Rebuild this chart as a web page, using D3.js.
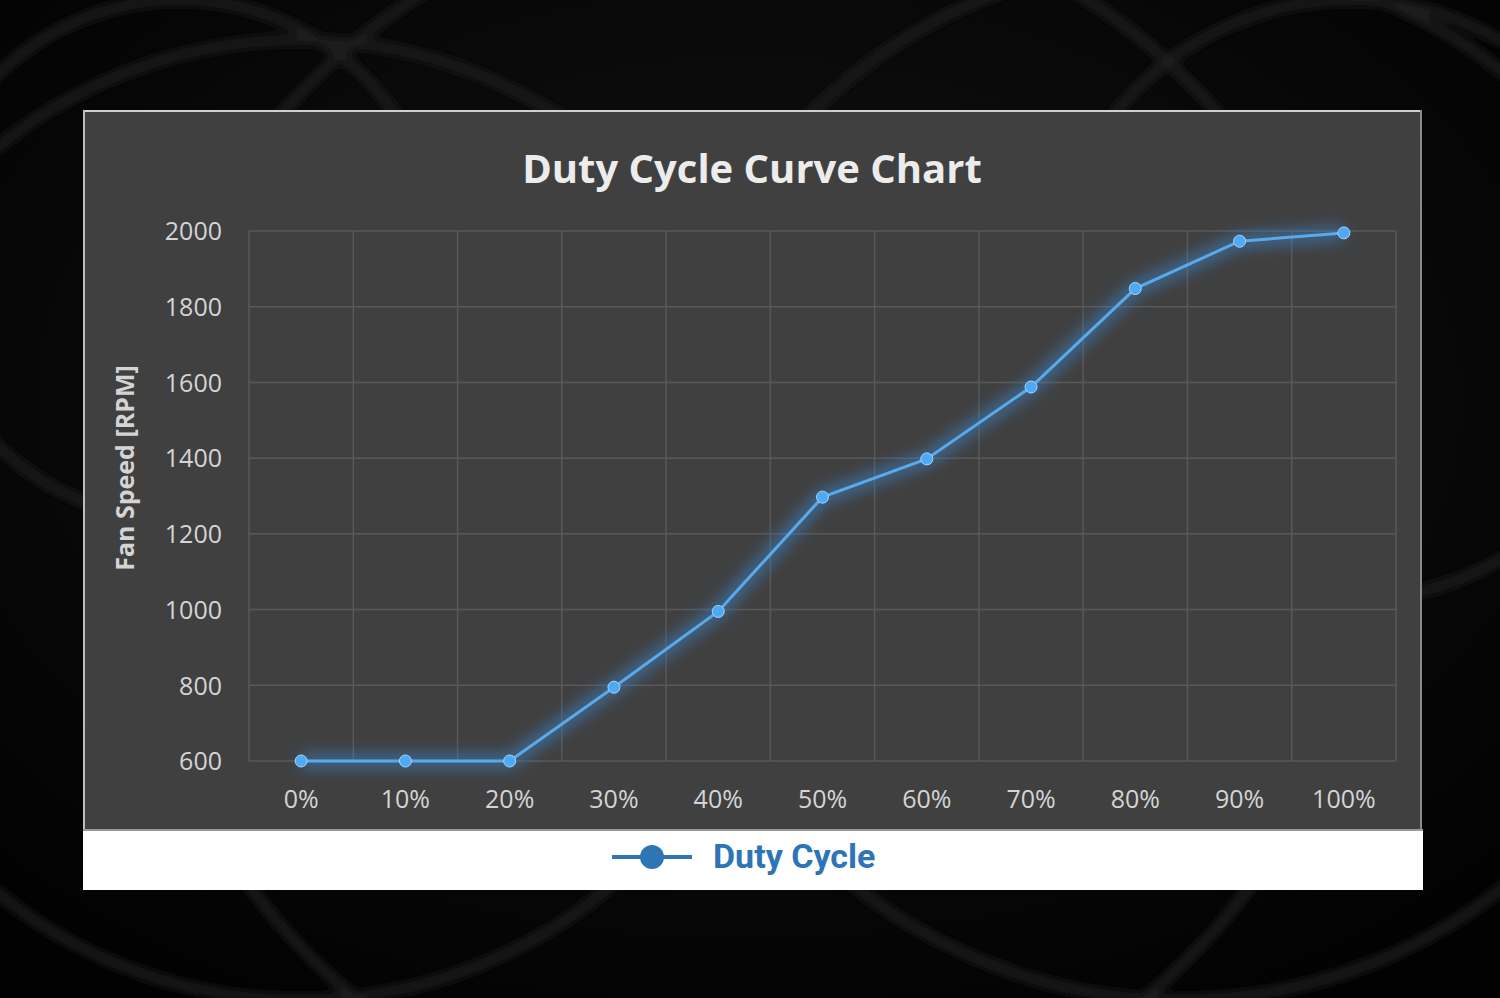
<!DOCTYPE html>
<html><head><meta charset="utf-8">
<script src="https://cdn.jsdelivr.net/npm/d3@7"></script>
<style>html,body{margin:0;padding:0;background:#000;overflow:hidden}</style>
</head><body>
<svg id="chart" width="1500" height="998"></svg>
<script>
const categories = ["0%","10%","20%","30%","40%","50%","60%","70%","80%","90%","100%"];
const rpmValues = [600,600,600,795,995,1297,1398,1588,1848,1973,1995];
const yTicks = [600,800,1000,1200,1400,1600,1800,2000];
const seriesName = "Duty Cycle";
const titleText = "Duty Cycle Curve Chart";
const yLabel = "Fan Speed [RPM]";

(function(){
const svg = d3.select("#chart");
const defs = svg.append("defs");

const bg = defs.append("radialGradient").attr("id","bg").attr("cx","50%").attr("cy","40%").attr("r","70%");
bg.append("stop").attr("offset","0%").attr("stop-color","#121212");
bg.append("stop").attr("offset","100%").attr("stop-color","#020202");
svg.append("rect").attr("width",1500).attr("height",998).attr("fill","url(#bg)");
const sb = defs.append("filter").attr("id","sb");
sb.append("feGaussianBlur").attr("stdDeviation",4);
const swirl = svg.append("g").attr("fill","none").attr("stroke","#1a1a1a").attr("stroke-width",10).attr("filter","url(#sb)");
[[300,520,480],[1180,480,520],[750,520,620],[180,260,260],[1350,300,300]].forEach(d=>{
  swirl.append("circle").attr("cx",d[0]).attr("cy",d[1]).attr("r",d[2]);
});

svg.append("rect").attr("x",83).attr("y",110).attr("width",1339).attr("height",720).attr("fill","#404040");
svg.append("line").attr("x1",83).attr("x2",1422).attr("y1",111).attr("y2",111).attr("stroke","#cfcfcf").attr("stroke-width",2);
svg.append("line").attr("x1",84).attr("x2",84).attr("y1",110).attr("y2",830).attr("stroke","#bdbdbd").attr("stroke-width",2);
svg.append("line").attr("x1",1421).attr("x2",1421).attr("y1",110).attr("y2",830).attr("stroke","#8a8a8a").attr("stroke-width",2);
svg.append("rect").attr("x",83).attr("y",830).attr("width",1340).attr("height",60).attr("fill","#ffffff");
svg.append("line").attr("x1",83).attr("x2",1423).attr("y1",830).attr("y2",830).attr("stroke","#9a9a9a").attr("stroke-width",2);

const pL=249,pR=1396,pT=231,pB=761;
const x = d3.scaleBand().domain(categories).range([pL,pR]).padding(0);
const y = d3.scaleLinear().domain([600,2000]).range([pB,pT]);

const g = svg.append("g");
g.selectAll(".hg").data(yTicks).join("line")
  .attr("x1",pL).attr("x2",pR).attr("y1",d=>y(d)).attr("y2",d=>y(d))
  .attr("stroke","#585858").attr("stroke-width",1.5);
const vEdges = categories.map(c=>x(c)).concat([pR]);
g.selectAll(".vg").data(vEdges).join("line")
  .attr("x1",d=>d).attr("x2",d=>d).attr("y1",pT).attr("y2",pB)
  .attr("stroke","#585858").attr("stroke-width",1.5);

const yAxis = d3.axisLeft(y).tickValues(yTicks).tickFormat(d3.format("d")).tickSize(0).tickPadding(0);
const ya = svg.append("g").attr("transform",`translate(222,0)`).call(yAxis);
ya.select(".domain").remove();
ya.selectAll("text").attr("font-family","'Open Sans', sans-serif").attr("font-size",25).attr("fill","#d4d4d4").attr("dy","0.35em");

const xAxis = d3.axisBottom(x).tickSize(0).tickPadding(0);
const xa = svg.append("g").attr("transform",`translate(0,799)`).call(xAxis);
xa.select(".domain").remove();
xa.selectAll("text").attr("font-family","'Open Sans', sans-serif").attr("font-size",25).attr("fill","#d4d4d4").attr("dy","0.35em");

svg.append("text").attr("x",752).attr("y",183).attr("text-anchor","middle")
  .attr("font-family","'Open Sans', sans-serif").attr("font-weight","bold").attr("font-size",40)
  .attr("fill","#ececec").text(titleText);
svg.append("text").attr("transform","translate(134,468) rotate(-90)").attr("text-anchor","middle")
  .attr("font-family","'Open Sans', sans-serif").attr("font-weight","bold").attr("font-size",25)
  .attr("fill","#d4d4d4").text(yLabel);

const f = defs.append("filter").attr("id","glow").attr("x","-10%").attr("y","-10%").attr("width","120%").attr("height","120%");
f.append("feGaussianBlur").attr("stdDeviation",7);
const line = d3.line().x((d,i)=>x(categories[i])+x.bandwidth()/2).y(d=>y(d));
svg.append("path").datum(rpmValues).attr("d",line).attr("fill","none")
  .attr("stroke","#3a8ad6").attr("stroke-width",16).attr("opacity",0.5).attr("filter","url(#glow)");
svg.append("path").datum(rpmValues).attr("d",line).attr("fill","none")
  .attr("stroke","#5aa9ea").attr("stroke-width",3);
svg.selectAll(".pt").data(rpmValues).join("circle")
  .attr("cx",(d,i)=>x(categories[i])+x.bandwidth()/2).attr("cy",d=>y(d)).attr("r",6)
  .attr("fill","#4eaaf5").attr("stroke","#a9d4f7").attr("stroke-width",1);

const lg = svg.append("g");
lg.append("line").attr("x1",612).attr("x2",692).attr("y1",857).attr("y2",857).attr("stroke","#2e75b6").attr("stroke-width",4);
lg.append("circle").attr("cx",652).attr("cy",857).attr("r",12).attr("fill","#2e75b6");
lg.append("text").attr("x",713).attr("y",868).attr("font-family","Roboto, sans-serif").attr("font-weight","bold")
  .attr("font-size",34).attr("fill","#2e75b6").text(seriesName);
})();
</script>
</body></html>
